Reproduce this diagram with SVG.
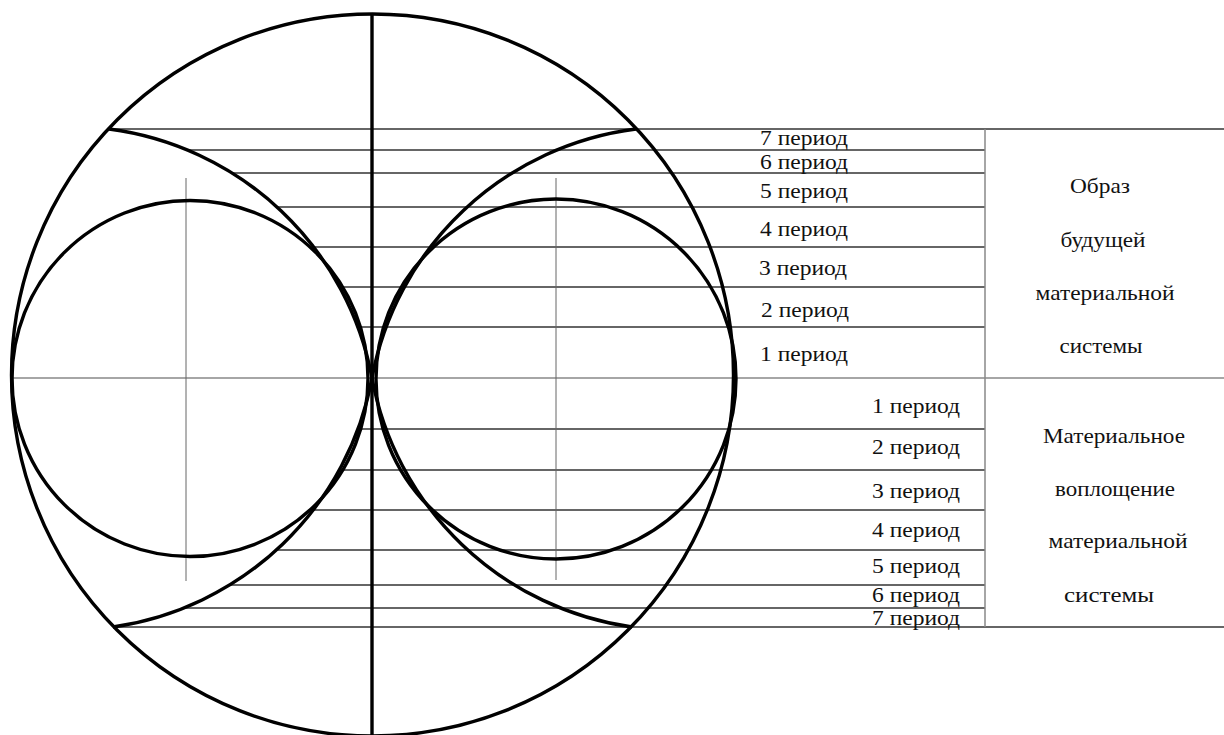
<svg xmlns="http://www.w3.org/2000/svg" width="1224" height="735" viewBox="0 0 1224 735">
<style>
.thick{fill:none;stroke:#000;stroke-width:3.4}
.hl{stroke:#333;stroke-width:1.4;fill:none}
.gl{stroke:#888;stroke-width:1.5;fill:none}
.axis{stroke:#666;stroke-width:1;fill:none}
.t{font-family:"Liberation Serif","Times New Roman",serif;font-size:22px;fill:#111}
.l{text-anchor:start}
.r{text-anchor:end}
.c{text-anchor:middle}
</style>
<rect width="1224" height="735" fill="#fff"/>
<g id="grid-lines">
<line class="hl" x1="109" y1="129" x2="1224" y2="129"/>
<line class="hl" x1="187" y1="150" x2="985" y2="150"/>
<line class="hl" x1="232" y1="173" x2="985" y2="173"/>
<line class="hl" x1="277" y1="207" x2="985" y2="207"/>
<line class="hl" x1="313" y1="247" x2="985" y2="247"/>
<line class="hl" x1="339" y1="287" x2="985" y2="287"/>
<line class="hl" x1="358" y1="327" x2="985" y2="327"/>
<line class="gl" x1="10" y1="378" x2="1224" y2="378"/>
<line class="hl" x1="358" y1="429" x2="985" y2="429"/>
<line class="hl" x1="339" y1="470" x2="985" y2="470"/>
<line class="hl" x1="312" y1="510" x2="985" y2="510"/>
<line class="hl" x1="276" y1="550" x2="985" y2="550"/>
<line class="hl" x1="228" y1="585" x2="985" y2="585"/>
<line class="hl" x1="184" y1="608" x2="985" y2="608"/>
<line class="hl" x1="113" y1="627" x2="1224" y2="627"/>
<line class="gl" x1="985" y1="129" x2="985" y2="627"/>
<line class="axis" x1="186" y1="178" x2="186" y2="581"/>
<line class="axis" x1="556" y1="178" x2="556" y2="580"/>
</g>
<g id="figure">
<circle class="thick" cx="372.5" cy="375" r="361"/>
<circle class="thick" cx="190" cy="378.5" r="178"/>
<circle class="thick" cx="556" cy="379" r="180"/>
<path class="thick" d="M109,129 A308,308 0 0 1 372,378 A308,308 0 0 1 113,627"/>
<path class="thick" d="M636,129 A308,308 0 0 0 372,378 A308,308 0 0 0 632,627"/>
<line class="thick" x1="372" y1="13" x2="372" y2="735"/>
</g>
<g id="upper-periods">
<text class="t l" x="760" y="145" textLength="88" lengthAdjust="spacingAndGlyphs">7 период</text>
<text class="t l" x="760" y="169" textLength="88" lengthAdjust="spacingAndGlyphs">6 период</text>
<text class="t l" x="760" y="198" textLength="88" lengthAdjust="spacingAndGlyphs">5 период</text>
<text class="t l" x="760" y="236" textLength="88" lengthAdjust="spacingAndGlyphs">4 период</text>
<text class="t l" x="759" y="275" textLength="88" lengthAdjust="spacingAndGlyphs">3 период</text>
<text class="t l" x="761" y="317" textLength="88" lengthAdjust="spacingAndGlyphs">2 период</text>
<text class="t l" x="760" y="361" textLength="88" lengthAdjust="spacingAndGlyphs">1 период</text>
</g>
<g id="lower-periods">
<text class="t r" x="960" y="413" textLength="88" lengthAdjust="spacingAndGlyphs">1 период</text>
<text class="t r" x="960" y="454" textLength="88" lengthAdjust="spacingAndGlyphs">2 период</text>
<text class="t r" x="960" y="498" textLength="88" lengthAdjust="spacingAndGlyphs">3 период</text>
<text class="t r" x="960" y="537" textLength="88" lengthAdjust="spacingAndGlyphs">4 период</text>
<text class="t r" x="960" y="573" textLength="88" lengthAdjust="spacingAndGlyphs">5 период</text>
<text class="t r" x="960" y="602" textLength="88" lengthAdjust="spacingAndGlyphs">6 период</text>
<text class="t r" x="960" y="625" textLength="88" lengthAdjust="spacingAndGlyphs">7 период</text>
</g>
<g id="upper-label">
<text class="t c" x="1100" y="193" textLength="60" lengthAdjust="spacingAndGlyphs">Образ</text>
<text class="t c" x="1103" y="247" textLength="85" lengthAdjust="spacingAndGlyphs">будущей</text>
<text class="t c" x="1105" y="300" textLength="139" lengthAdjust="spacingAndGlyphs">материальной</text>
<text class="t c" x="1101" y="353" textLength="83" lengthAdjust="spacingAndGlyphs">системы</text>
</g>
<g id="lower-label">
<text class="t c" x="1114" y="443" textLength="142" lengthAdjust="spacingAndGlyphs">Материальное</text>
<text class="t c" x="1115" y="496" textLength="120" lengthAdjust="spacingAndGlyphs">воплощение</text>
<text class="t c" x="1118" y="548" textLength="139" lengthAdjust="spacingAndGlyphs">материальной</text>
<text class="t c" x="1109" y="602" textLength="90" lengthAdjust="spacingAndGlyphs">системы</text>
</g>
</svg>
